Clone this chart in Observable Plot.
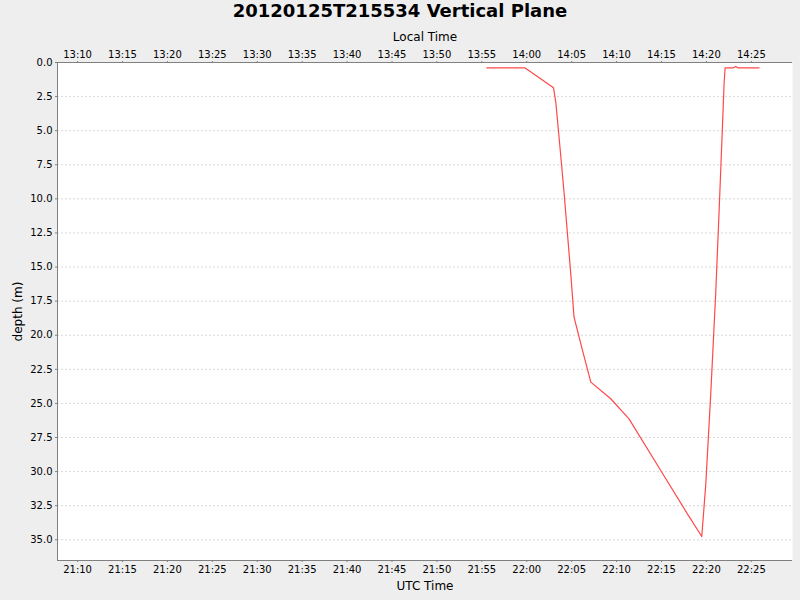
<!DOCTYPE html>
<html>
<head>
<meta charset="utf-8">
<script src="https://cdn.jsdelivr.net/npm/d3@7"></script>
<script src="https://cdn.jsdelivr.net/npm/@observablehq/plot@0.6"></script>
<style>
  html, body { margin: 0; padding: 0; background: #eeeeee; }
  #title { width: 800px; height: 24px; line-height: 24px; text-align: center;
           font: bold 18px "DejaVu Sans", sans-serif; color: #000; }
  #chart svg { display: block; }
</style>
</head>
<body>
<div id="title">20120125T215534 Vertical Plane</div>
<div id="chart"></div>
<script>
const day = "2012-01-25";
const times = ["21:55:33","21:59:47","22:02:59","22:03:14","22:03:47","22:04:10","22:04:32","22:04:54","22:05:16","22:06:12","22:07:08","22:09:21","22:11:23","22:14:55","22:17:53","22:19:29","22:19:56","22:20:29","22:21:02","22:21:25","22:21:47","22:21:58","22:22:05","22:23:01","22:23:16","22:23:31","22:25:52"];
const depths = [0.39,0.39,1.86,2.9,6.82,9.63,12.56,15.5,18.68,21.1,23.44,24.66,26.13,29.92,33.1,34.76,30.9,24.3,16.96,10.85,4.74,1.56,0.39,0.39,0.29,0.39,0.39];
const utcTicks = ["21:10","21:15","21:20","21:25","21:30","21:35","21:40","21:45","21:50","21:55","22:00","22:05","22:10","22:15","22:20","22:25"];
const localTicks = ["13:10","13:15","13:20","13:25","13:30","13:35","13:40","13:45","13:50","13:55","14:00","14:05","14:10","14:15","14:20","14:25"];
const depthTicks = [0,2.5,5,7.5,10,12.5,15,17.5,20,22.5,25,27.5,30,32.5,35];

const toDate = s => new Date(`${day}T${s.length === 5 ? s + ":00" : s}Z`);
const data = times.map((t, i) => ({time: toDate(t), depth: depths[i]}));
const tickDates = utcTicks.map(toDate);
const xDomain = [toDate("21:07:46"), toDate("22:29:35")];
const yDomain = [0, 36.52];
const hm = d3.utcFormat("%H:%M");
const localFmt = d => localTicks[utcTicks.indexOf(hm(d))];

const font = '"DejaVu Sans", sans-serif';
const axisColor = "#808080";

const chart = Plot.plot({
  width: 800,
  height: 576,
  marginLeft: 57,
  marginRight: 8,
  marginTop: 38,
  marginBottom: 40,
  style: {background: "transparent", fontFamily: font, fontSize: "10px", color: "#000"},
  x: {type: "utc", domain: xDomain},
  y: {domain: yDomain, reverse: true},
  marks: [
    Plot.frame({fill: "white", stroke: "none"}),
    Plot.gridY(depthTicks, {stroke: "#d8d8d8", strokeOpacity: 1, strokeDasharray: "2,2"}),
    Plot.ruleY([yDomain[0]], {stroke: axisColor}),
    Plot.ruleY([yDomain[1]], {stroke: axisColor}),
    Plot.ruleX([xDomain[0]], {stroke: axisColor}),
    Plot.axisX(tickDates, {anchor: "bottom", tickSize: 2, tickPadding: 3, tickFormat: hm, label: null, stroke: axisColor, fill: "#000", fontSize: 10}),
    Plot.axisX(tickDates, {anchor: "top", tickSize: 2, tickPadding: 3, tickFormat: localFmt, label: null, stroke: axisColor, fill: "#000", fontSize: 10}),
    Plot.axisY(depthTicks, {anchor: "left", tickSize: 2, tickPadding: 3, tickFormat: d3.format(".1f"), label: null, stroke: axisColor, fill: "#000", fontSize: 10}),
    Plot.text(["UTC Time"], {frameAnchor: "bottom", dy: 26, textAnchor: "middle", lineAnchor: "middle", fontSize: 12, fill: "#000"}),
    Plot.text(["Local Time"], {frameAnchor: "top", dy: -25, textAnchor: "middle", lineAnchor: "middle", fontSize: 12, fill: "#000"}),
    Plot.text(["depth (m)"], {frameAnchor: "left", dx: -39, rotate: -90, textAnchor: "middle", lineAnchor: "middle", fontSize: 12, fill: "#000"}),
    Plot.line(data, {x: "time", y: "depth", stroke: "#ff4848", strokeWidth: 1.2})
  ]
});
document.getElementById("chart").appendChild(chart);
</script>
</body>
</html>
